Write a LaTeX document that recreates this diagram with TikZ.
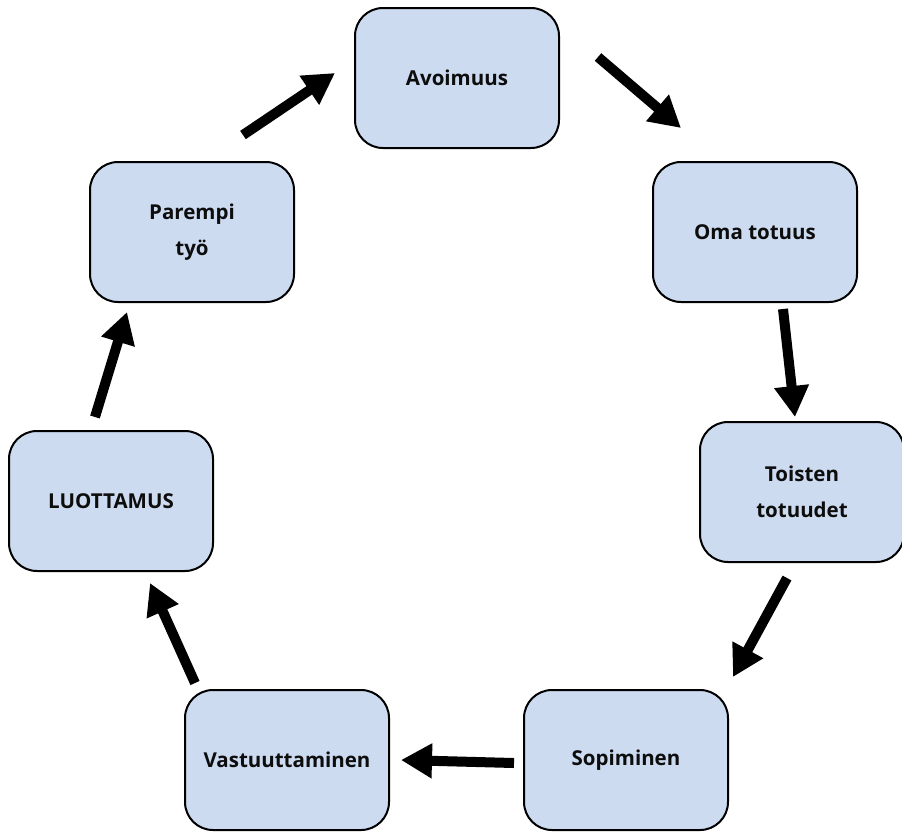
\documentclass[tikz,border=0pt]{standalone}
\usepackage{fontspec}
\setmainfont{Open Sans}
\usetikzlibrary{arrows.meta}
\definecolor{boxfill}{RGB}{205,219,240}
\begin{document}
\begin{tikzpicture}[x=1pt,y=-1pt,
  stage/.style={draw=black, line width=2pt, fill=boxfill, rounded corners=28pt,
    minimum width=204pt, minimum height=140pt, inner sep=0pt, outer sep=0pt,
    align=center, font=\fontsize{20.5}{36}\selectfont\bfseries, text=black!95},
  flow/.style={line width=10pt, -{Triangle[length=31pt,width=33pt]}}]
\useasboundingbox (0,0) rectangle (902,831);

% the seven stages of the cycle
\node[stage] (avo) at (457,78)  {Avoimuus};
\node[stage] (oma) at (755,232) {Oma totuus};
\node[stage] (toi) at (802,492) {Toisten\\totuudet};
\node[stage] (sop) at (626,760) {Sopiminen};
\node[stage] (vas) at (287,760) {Vastuuttaminen};
\node[stage] (luo) at (111,501) {LUOTTAMUS};
\node[stage] (par) at (192,232) {Parempi\\työ};

% arrows running clockwise between the stages
\draw[flow] ([shift={(51,-97)}]par.center)  -- ([shift={(-122,-5)}]avo.center);
\draw[flow] ([shift={(141,-21)}]avo.center) -- ([shift={(-74,-104)}]oma.center);
\draw[flow] ([shift={(28,77)}]oma.center)   -- ([shift={(-7,-75)}]toi.center);
\draw[flow] ([shift={(-15,86)}]toi.center)  -- ([shift={(107,-83)}]sop.center);
\draw[flow] ([shift={(-112,3)}]sop.center)  -- ([shift={(114,0)}]vas.center);
\draw[flow] ([shift={(-92,-77)}]vas.center) -- ([shift={(39,82)}]luo.center);
\draw[flow] ([shift={(-16,-84)}]luo.center) -- ([shift={(-65,80)}]par.center);
\end{tikzpicture}
\end{document}
